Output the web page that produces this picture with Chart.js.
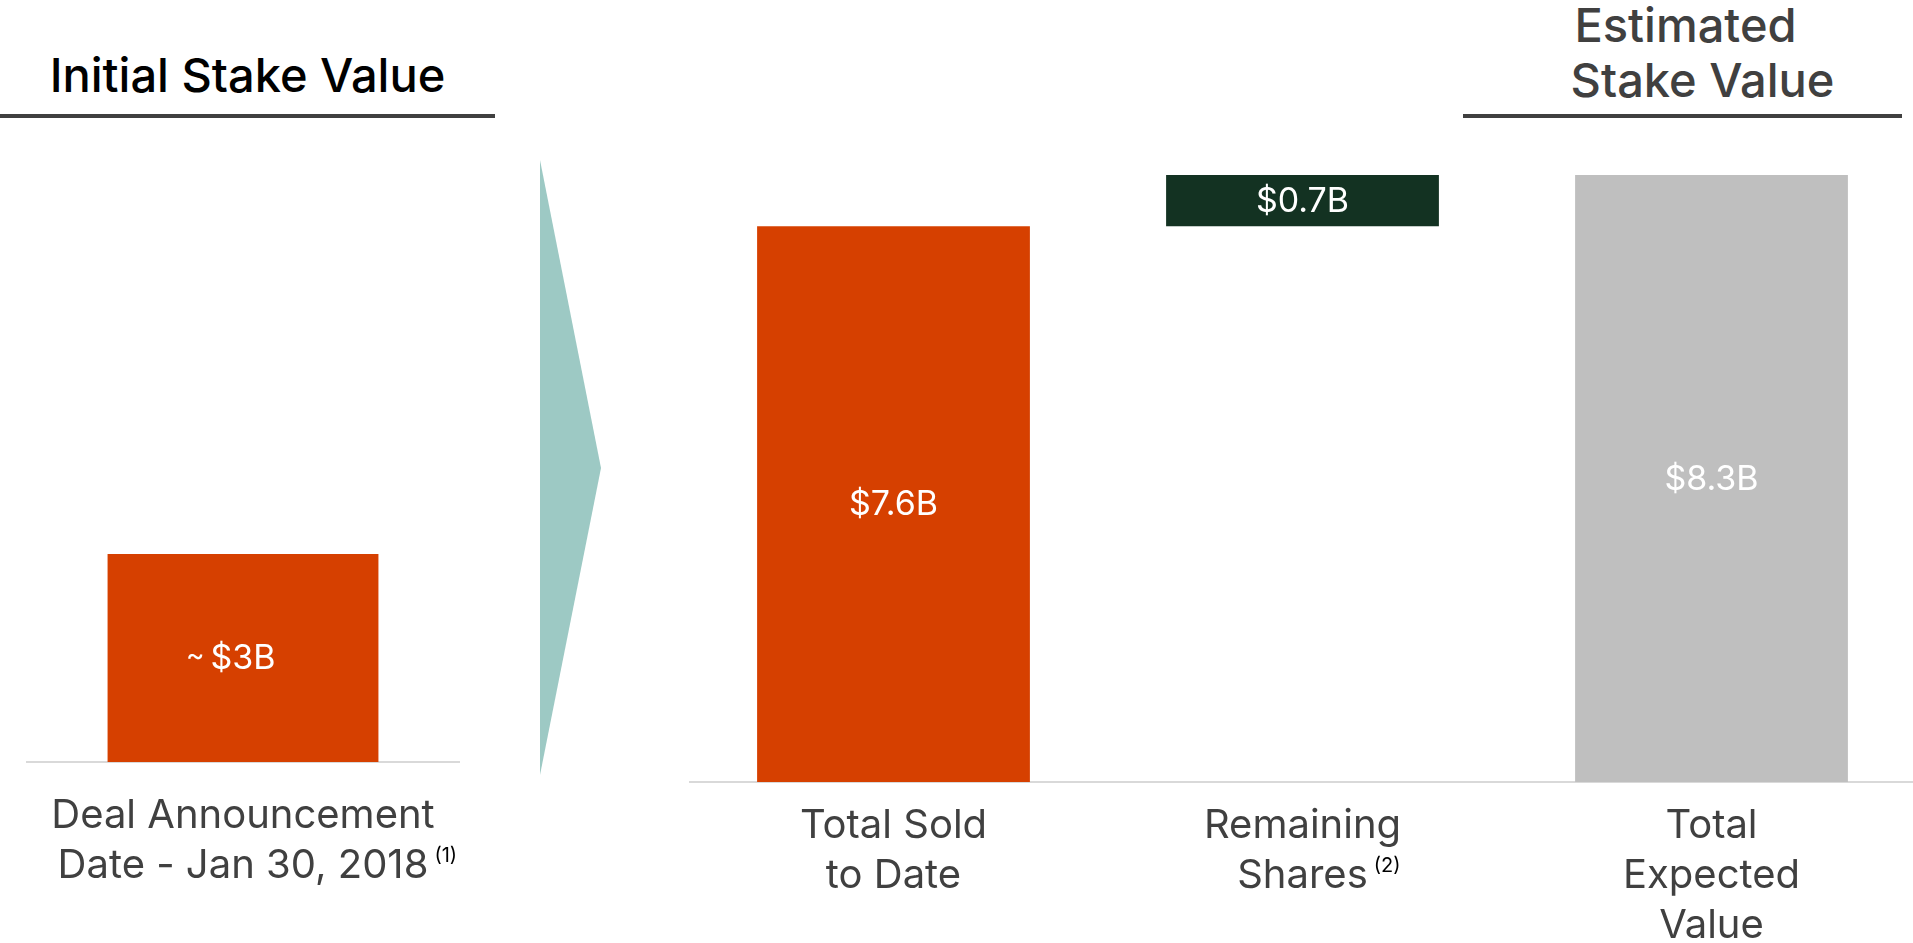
<!DOCTYPE html>
<html>
<head>
<meta charset="utf-8">
<script src="https://cdn.jsdelivr.net/npm/chart.js@4.4.1/dist/chart.umd.min.js"></script>
<style>
  html, body { margin: 0; padding: 0; background: #fff; }
  body { width: 1913px; height: 943px; position: relative; overflow: hidden; font-family: Inter, "Noto Sans", sans-serif; }
  .hdr { position: absolute; font-size: 47px; line-height: 46px; font-weight: 500; text-align: center; white-space: nowrap; box-sizing: border-box; }
  .rule { position: absolute; top: 114px; height: 4px; background: #404040; }
  canvas { position: absolute; top: 0; }
  #arrow { position: absolute; left: 540px; top: 160px; width: 61px; height: 615px; background: #9dc9c4;
           clip-path: polygon(0 0, 100% 50.1%, 0 100%); }
</style>
</head>
<body>
<div class="hdr" style="left:0; width:495px; top:52px; color:#000;">Initial Stake Value</div>
<div class="rule" style="left:0; width:495px;"></div>

<div class="hdr" style="left:1463px; width:439px; padding-left:6px; top:2px; color:#404040;">Estimated</div>
<div class="hdr" style="left:1463px; width:439px; padding-left:40px; top:57px; color:#404040;">Stake Value</div>
<div class="rule" style="left:1463px; width:439px;"></div>

<div id="arrow"></div>

<canvas id="leftChart" width="700" height="943" style="left:-100px;"></canvas>
<canvas id="rightChart" width="1227" height="943" style="left:689px;"></canvas>

<script>
// initial stake
const leftCategories = [['Deal Announcement', 'Date - Jan 30, 2018']];
const leftNotes = ['(1)'];
const leftValues = [3];
const leftLabels = ['~$3B'];

// sold / remaining / expected (waterfall)
const rightCategories = [['Total Sold', 'to Date'], ['Remaining', 'Shares'], ['Total', 'Expected', 'Value']];
const rightNotes = ['', '(2)', ''];
const rightStarts = [0, 7.6, 0];
const rightEnds = [7.6, 8.3, 8.3];
const rightLabels = ['$7.6B', '$0.7B', '$8.3B'];
const rightColors = ['#d64000', '#133222', '#bfbfbf'];

const TICK_SIZE = 40;
const TICK_LINE = 50;

const barLabels = {
    id: 'barLabels',
    afterDatasetsDraw(chart, args, opts) {
        const ctx = chart.ctx;
        const meta = chart.getDatasetMeta(0);
        ctx.save();
        ctx.fillStyle = '#ffffff';
        ctx.textBaseline = 'middle';
        meta.data.forEach(function(bar, i) {
            let text = opts.labels[i];
            const y = (bar.y + bar.base) / 2 + 1;
            ctx.font = '400 34px Inter';
            if (text[0] === '~') {
                // tilde hangs left of the centred amount
                text = text.slice(1);
                const w = ctx.measureText(text).width;
                ctx.textAlign = 'right';
                ctx.font = '400 28px Inter';
                ctx.fillText('~', bar.x - w / 2 - 6, y - 2);
                ctx.font = '400 34px Inter';
            }
            ctx.textAlign = 'center';
            ctx.fillText(text, bar.x, y);
        });
        ctx.restore();
    }
};

// small superscript footnote marks after the last line of a tick label
const footnotes = {
    id: 'footnotes',
    afterDraw(chart, args, opts) {
        const ctx = chart.ctx;
        const x = chart.scales.x;
        const pad = x.options.ticks.padding;
        ctx.save();
        opts.notes.forEach(function(note, i) {
            if (!note) return;
            const lines = chart.data.labels[i];
            const last = lines[lines.length - 1];
            ctx.font = '400 ' + TICK_SIZE + 'px Inter';
            const w = ctx.measureText(last).width;
            const mid = x.top + pad + TICK_LINE * (lines.length - 0.5);
            ctx.font = '400 20px Inter';
            ctx.fillStyle = '#000000';
            ctx.textAlign = 'left';
            ctx.textBaseline = 'alphabetic';
            ctx.fillText(note, x.getPixelForTick(i) + w / 2 + 6, mid - 4);
        });
        ctx.restore();
    }
};

function baseOptions(yMax, padding, axisHeight, tickPad, labels, notes) {
    return {
        responsive: false,
        animation: false,
        devicePixelRatio: 1,
        layout: { padding: padding },
        plugins: {
            legend: { display: false },
            tooltip: { enabled: false },
            barLabels: { labels: labels },
            footnotes: { notes: notes }
        },
        scales: {
            x: {
                grid: { display: false, drawTicks: false },
                border: { display: true, color: '#d9d9d9', width: 2 },
                ticks: {
                    color: '#404040',
                    padding: tickPad,
                    maxRotation: 0,
                    autoSkip: false,
                    font: { family: 'Inter', size: TICK_SIZE, weight: '400', lineHeight: TICK_LINE + 'px' }
                },
                afterFit: function(scale) { scale.height = axisHeight; }
            },
            y: { display: false, min: 0, max: yMax }
        }
    };
}

new Chart(document.getElementById('leftChart'), {
    type: 'bar',
    data: {
        labels: leftCategories,
        datasets: [{
            data: leftValues,
            backgroundColor: '#d64000',
            categoryPercentage: 1,
            barPercentage: 0.627
        }]
    },
    options: baseOptions(6, { left: 127, right: 141, top: 346, bottom: 0 }, 181, 29, leftLabels, leftNotes),
    plugins: [barLabels, footnotes]
});

new Chart(document.getElementById('rightChart'), {
    type: 'bar',
    data: {
        labels: rightCategories,
        datasets: [{
            data: rightStarts.map(function(s, i) { return [s, rightEnds[i]]; }),
            backgroundColor: rightColors,
            categoryPercentage: 1,
            barPercentage: 0.667
        }]
    },
    options: baseOptions(10, { left: 0, right: 0, top: 50.7, bottom: 0 }, 161, 19, rightLabels, rightNotes),
    plugins: [barLabels, footnotes]
});
</script>
</body>
</html>
